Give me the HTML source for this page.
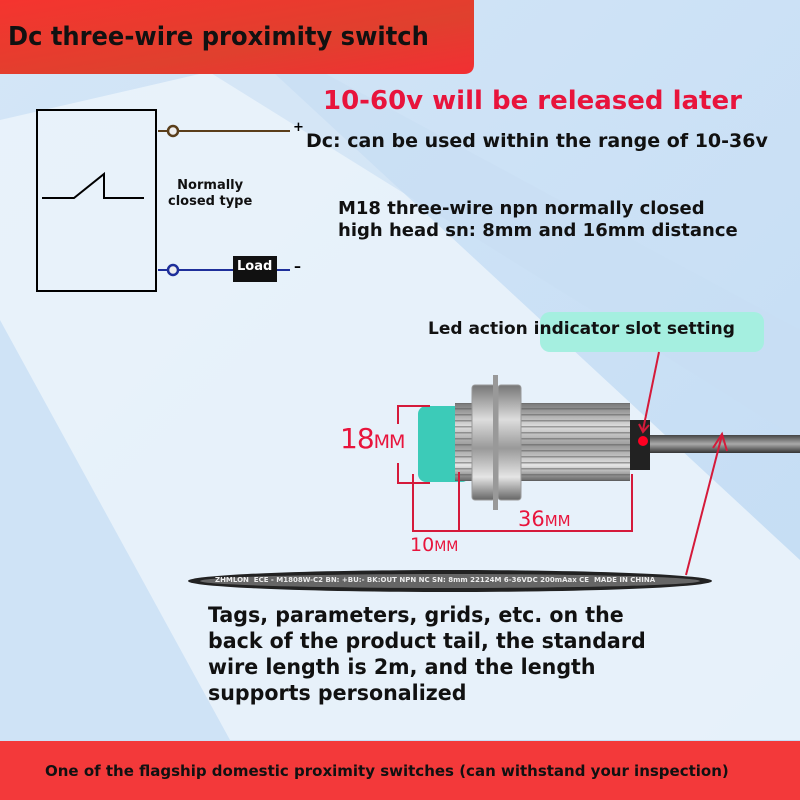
<!DOCTYPE html>
<html><head><meta charset="utf-8"><style>
*{margin:0;padding:0;box-sizing:border-box}
body{width:800px;height:800px;position:relative;overflow:hidden;font-family:"DejaVu Sans","Liberation Sans",sans-serif;font-weight:bold}
.t{position:absolute;white-space:nowrap}
</style></head><body>
<svg width="800" height="800" style="position:absolute;left:0;top:0">
<defs>
<linearGradient id="bg" x1="0" y1="0" x2="1" y2="1"><stop offset="0" stop-color="#d4e6f7"/><stop offset="1" stop-color="#c3dcf4"/></linearGradient>
<linearGradient id="red" x1="0" y1="0" x2="1" y2="1"><stop offset="0" stop-color="#f5342f"/><stop offset="0.6" stop-color="#e0402e"/><stop offset="1" stop-color="#f22f33"/></linearGradient>
<linearGradient id="metal" x1="0" y1="0" x2="0" y2="1"><stop offset="0" stop-color="#777"/><stop offset="0.3" stop-color="#ddd"/><stop offset="0.55" stop-color="#999"/><stop offset="0.8" stop-color="#e5e5e5"/><stop offset="1" stop-color="#666"/></linearGradient>
<linearGradient id="cab" x1="0" y1="0" x2="0" y2="1"><stop offset="0" stop-color="#444"/><stop offset="0.5" stop-color="#aaa"/><stop offset="1" stop-color="#333"/></linearGradient>
<pattern id="thr" width="4" height="6" patternUnits="userSpaceOnUse"><rect width="4" height="1.5" fill="#555" opacity="0.5"/></pattern>
</defs>
<rect width="800" height="800" fill="url(#bg)"/>
<polygon points="0,120 260,60 800,560 800,740 0,740" fill="#eaf3fb" opacity="0.9"/>
<polygon points="0,320 0,740 230,740" fill="#cfe3f6"/>
<polygon points="190,60 800,440 800,330 300,60" fill="#c8def4" opacity="0.6"/>
<path d="M0,0 H474 V64 Q474,74 464,74 H0 Z" fill="url(#red)"/>
<rect x="0" y="741" width="800" height="59" fill="#f3393a"/>
<rect x="37" y="110" width="119" height="181" fill="none" stroke="#000" stroke-width="2"/>
<polyline points="42,198 74,198 104,174 104,198 144,198" fill="none" stroke="#000" stroke-width="2"/>
<line x1="158" y1="131" x2="290" y2="131" stroke="#5a3e1a" stroke-width="2"/>
<circle cx="173" cy="131" r="5" fill="#eee" stroke="#5a3e1a" stroke-width="2.5"/>
<line x1="158" y1="270" x2="290" y2="270" stroke="#1e2f9a" stroke-width="2"/>
<circle cx="173" cy="270" r="5" fill="#eee" stroke="#1e2f9a" stroke-width="2.5"/>
<rect x="233" y="256" width="44" height="26" fill="#111"/>
<rect x="540" y="312" width="224" height="40" rx="10" fill="#a5efe0"/>
<rect x="418" y="406" width="52" height="76" rx="8" fill="#3ccbb8"/>
<rect x="455" y="403" width="175" height="78" fill="url(#metal)"/>
<rect x="455" y="403" width="175" height="78" fill="url(#thr)"/>
<rect x="472" y="385" width="23" height="115" rx="3" fill="url(#metal)" stroke="#999"/>
<rect x="498" y="385" width="23" height="115" rx="3" fill="url(#metal)" stroke="#999"/>
<rect x="493" y="375" width="5" height="135" fill="#999"/>
<rect x="630" y="420" width="20" height="50" fill="#222"/>
<rect x="650" y="435" width="150" height="18" fill="url(#cab)"/>
<circle cx="643" cy="441" r="5" fill="#f02"/>
<g stroke="#d51a3a" stroke-width="2" fill="none">
<polyline points="430,406 398,406 398,424"/>
<polyline points="398,463 398,483 430,483"/>
<line x1="413" y1="474" x2="413" y2="532"/>
<line x1="459" y1="472" x2="459" y2="532"/>
<line x1="632" y1="474" x2="632" y2="532"/>
<line x1="413" y1="531" x2="632" y2="531"/>
<line x1="659" y1="352" x2="643" y2="430"/>
<line x1="722" y1="435" x2="686" y2="575"/>
<polyline points="639,424 643,432 649,425"/>
<polyline points="713,448 722,434 727,451"/>
</g>
<ellipse cx="450" cy="581" rx="262" ry="11" fill="#222"/>
<ellipse cx="450" cy="581" rx="250" ry="7" fill="#666"/>
</svg>
<div class="t" style="left:8px;top:22px;font-size:26px;color:#111;transform:scaleX(0.93);transform-origin:left">Dc three-wire proximity switch</div>
<div class="t" style="left:323px;top:86px;font-size:26px;color:#e8143c">10-60v will be released later</div>
<div class="t" style="left:293px;top:120px;font-size:13px;color:#000">+</div>
<div class="t" style="left:306px;top:130px;font-size:19px;color:#111">Dc: can be used within the range of 10-36v</div>
<div class="t" style="left:168px;top:178px;font-size:13px;color:#111;text-align:center;line-height:16px">Normally<br>closed type</div>
<div class="t" style="left:237px;top:259px;font-size:13px;color:#fff">Load</div>
<div class="t" style="left:294px;top:259px;font-size:14px;color:#000">–</div>
<div class="t" style="left:338px;top:198px;font-size:18px;color:#111;line-height:22px">M18 three-wire npn normally closed<br>high head sn: 8mm and 16mm distance</div>
<div class="t" style="left:428px;top:319px;font-size:17px;color:#111">Led action indicator slot setting</div>
<div class="t" style="left:340px;top:422px;font-size:28px;font-weight:normal;color:#e8143c;letter-spacing:-1px">18<span style="font-size:19px">MM</span></div>
<div class="t" style="left:518px;top:507px;font-size:21px;font-weight:normal;color:#e8143c">36<span style="font-size:15px">MM</span></div>
<div class="t" style="left:410px;top:534px;font-size:19px;font-weight:normal;color:#e8143c">10<span style="font-size:14px">MM</span></div>
<div class="t" style="left:215px;top:576px;font-size:7px;color:#eee">ZHMLON &nbsp;ECE - M1808W-C2 BN: +BU:- BK:OUT NPN NC SN: 8mm 22124M 6-36VDC 200mAax CE &nbsp;MADE IN CHINA</div>
<div class="t" style="left:208px;top:602px;font-size:21px;color:#111;line-height:26px;transform:scaleX(0.98);transform-origin:left">Tags, parameters, grids, etc. on the<br>back of the product tail, the standard<br>wire length is 2m, and the length<br>supports personalized</div>
<div class="t" style="left:45px;top:762px;font-size:15px;color:#111">One of the flagship domestic proximity switches (can withstand your inspection)</div>
</body></html>
